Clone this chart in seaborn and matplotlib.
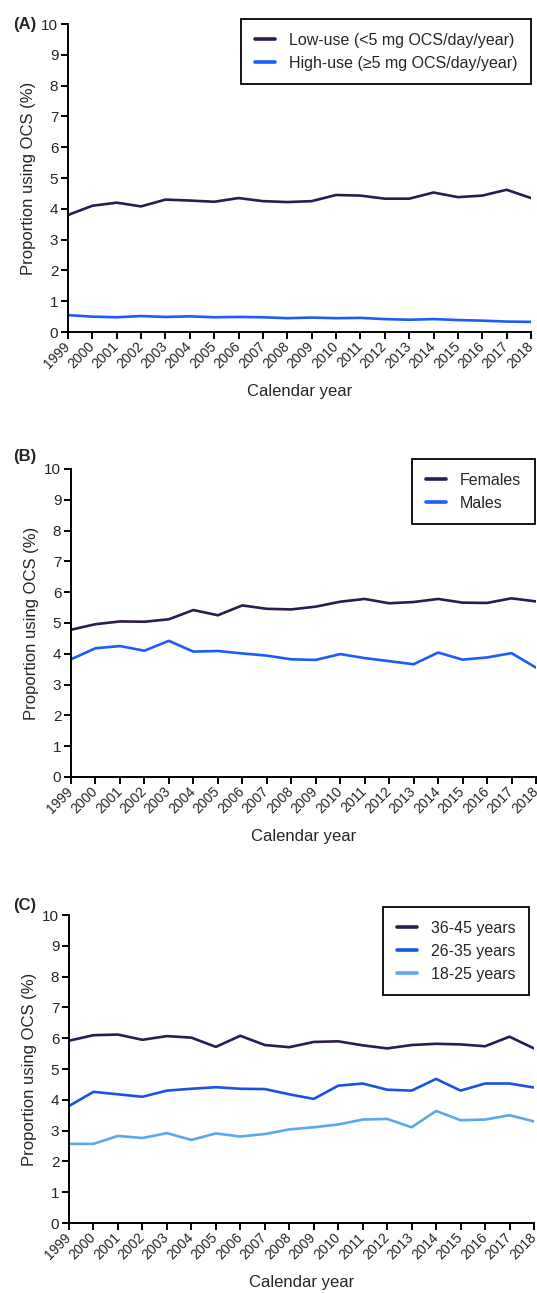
import pandas as pd
import numpy as np
import matplotlib
matplotlib.use("Agg")
import matplotlib.pyplot as plt
import seaborn as sns

sns.set_style("ticks")
plt.rcParams['font.family'] = ['Liberation Sans', 'DejaVu Sans']

years = list(range(1999, 2019))

# Panel A: OCS use level
low_use = [3.80, 4.10, 4.20, 4.08, 4.30, 4.27, 4.23, 4.35, 4.25, 4.22,
           4.25, 4.45, 4.43, 4.33, 4.33, 4.53, 4.38, 4.43, 4.62, 4.35]
high_use = [0.55, 0.50, 0.48, 0.52, 0.49, 0.51, 0.48, 0.49, 0.48, 0.45,
            0.47, 0.45, 0.46, 0.42, 0.40, 0.42, 0.39, 0.37, 0.34, 0.33]

# Panel B: sex
females = [4.78, 4.96, 5.05, 5.04, 5.12, 5.42, 5.25, 5.57, 5.46, 5.44,
           5.53, 5.69, 5.78, 5.64, 5.68, 5.78, 5.66, 5.65, 5.80, 5.70]
males = [3.82, 4.18, 4.25, 4.10, 4.42, 4.07, 4.09, 4.01, 3.94, 3.82,
         3.80, 3.99, 3.86, 3.76, 3.66, 4.04, 3.81, 3.88, 4.02, 3.55]

# Panel C: age groups
age_36_45 = [5.92, 6.10, 6.12, 5.95, 6.07, 6.02, 5.72, 6.08, 5.78, 5.71,
             5.88, 5.90, 5.77, 5.67, 5.78, 5.82, 5.80, 5.74, 6.05, 5.67]
age_26_35 = [3.80, 4.26, 4.18, 4.10, 4.30, 4.36, 4.41, 4.36, 4.35, 4.18,
             4.03, 4.46, 4.53, 4.33, 4.30, 4.68, 4.30, 4.53, 4.53, 4.40]
age_18_25 = [2.57, 2.57, 2.83, 2.76, 2.92, 2.70, 2.91, 2.81, 2.89, 3.04,
             3.11, 3.20, 3.36, 3.38, 3.11, 3.64, 3.34, 3.36, 3.50, 3.30]

dark = "#2d1a50"
blue = "#1c5cf8"
blue2 = "#1a52e3"
light = "#5aa8f2"


def long_df(series):
    rows = []
    for name, vals in series.items():
        for y, v in zip(years, vals):
            rows.append({"Year": y, "Value": v, "Group": name})
    return pd.DataFrame(rows)


# label, axes rect, series, colours, legend anchor, panel-label position (axes frac)
panels = [
    ("(A)", [0.1266, 0.7432, 0.8622, 0.2382],
     {"Low-use (<5 mg OCS/day/year)": low_use,
      "High-use (\u22655 mg OCS/day/year)": high_use},
     [dark, blue], (1.0, 1.016), (-0.119, 1.0)),
    ("(B)", [0.1322, 0.3991, 0.8659, 0.2382],
     {"Females": females, "Males": males},
     [dark, blue], (0.998, 1.032), (-0.125, 1.04)),
    ("(C)", [0.1285, 0.0541, 0.8659, 0.2382],
     {"36-45 years": age_36_45, "26-35 years": age_26_35,
      "18-25 years": age_18_25},
     [dark, blue2, light], (0.99, 1.026), (-0.12, 1.03)),
]

fig = plt.figure(figsize=(5.37, 12.93), dpi=100)

for label, rect, series, colors, anchor, label_pos in panels:
    ax = fig.add_axes(rect)
    df = long_df(series)
    sns.lineplot(data=df, x="Year", y="Value", hue="Group", palette=colors,
                 linewidth=1.9, ax=ax)
    ax.set_xlim(1999, 2018)
    ax.set_ylim(0, 10)
    ax.set_yticks(range(0, 11))
    ax.set_xticks(years)
    ax.set_xticklabels([str(y) for y in years], rotation=45, ha="right",
                       va="center", rotation_mode="anchor", fontsize=10)
    ax.tick_params(axis="y", labelsize=11)
    ax.tick_params(length=5, width=1.4, color="black")
    ax.tick_params(axis="x", pad=4)
    ax.tick_params(axis="y", pad=2)
    for s in ["left", "bottom"]:
        ax.spines[s].set_linewidth(1.4)
        ax.spines[s].set_color("black")
    sns.despine(ax=ax)
    ax.set_xlabel("Calendar year", fontsize=12, labelpad=9)
    ax.set_ylabel("Proportion using OCS (%)", fontsize=12, labelpad=4)
    leg = ax.legend(loc="upper right", bbox_to_anchor=anchor,
                    borderaxespad=0, fontsize=11.5, frameon=True,
                    fancybox=False, handlelength=1.25, handletextpad=0.9,
                    borderpad=0.85, labelspacing=0.5)
    leg.get_frame().set_edgecolor("black")
    leg.get_frame().set_linewidth(1.3)
    leg.get_frame().set_alpha(1)
    for h in leg.get_lines():
        h.set_linewidth(2.6)
    ax.text(label_pos[0], label_pos[1], label, transform=ax.transAxes,
            fontsize=12, fontweight="bold", ha="left", va="center")

fig.savefig("out.png", dpi=100)
